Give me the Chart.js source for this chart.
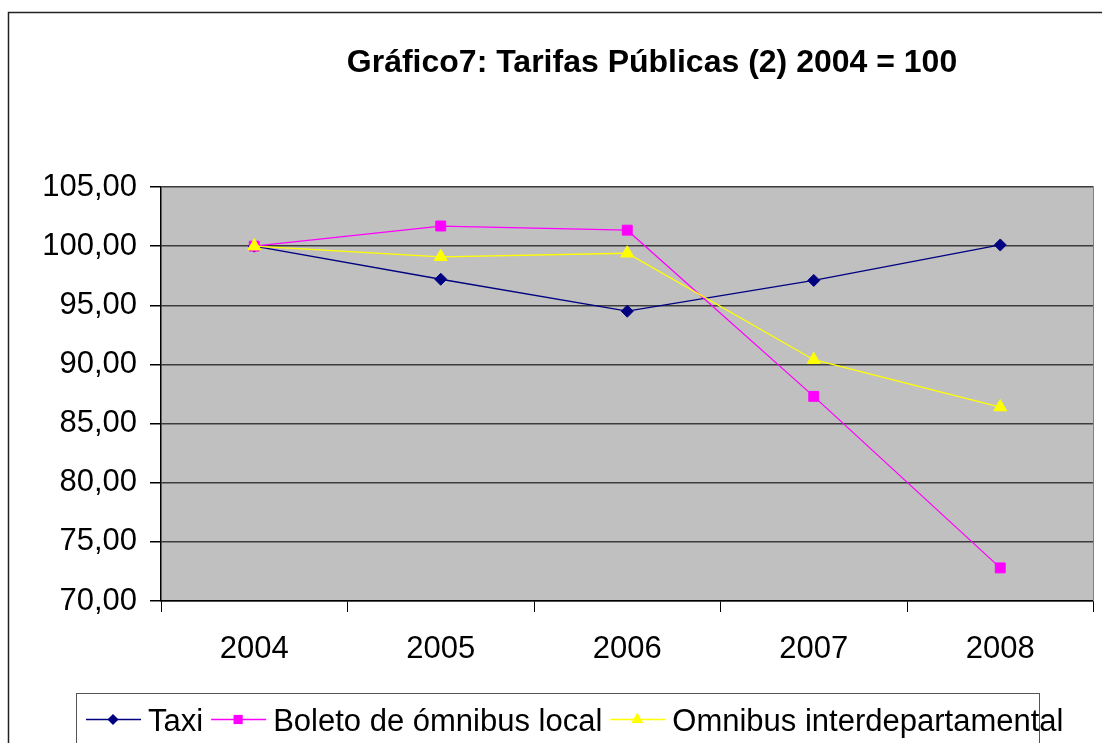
<!DOCTYPE html>
<html>
<head>
<meta charset="utf-8">
<script src="https://cdn.jsdelivr.net/npm/chart.js@4/dist/chart.umd.min.js"></script>
<style>
html,body{margin:0;padding:0;background:#fff;}
canvas{display:block;}
</style>
</head>
<body>
<canvas id="c" width="1102" height="743"></canvas>
<script>
const categories = ['2004', '2005', '2006', '2007', '2008'];
const taxi = [100.00, 97.20, 94.50, 97.10, 100.10];
const boleto = [100.00, 101.70, 101.35, 87.30, 72.80];
const omnibus = [100.00, 99.10, 99.40, 90.40, 86.40];
const yTicks = [70, 75, 80, 85, 90, 95, 100, 105];
const titleText = 'Gráfico7: Tarifas Públicas (2) 2004 = 100';
const seriesNames = ['Taxi', 'Boleto de ómnibus local', 'Omnibus interdepartamental'];

const FONT = "'Liberation Sans', Arial, sans-serif";

function drawMarker(ctx, style, x, y, r, color) {
  ctx.save();
  ctx.fillStyle = color;
  ctx.beginPath();
  if (style === 'rectRot') {
    ctx.moveTo(x, y - r); ctx.lineTo(x + r, y); ctx.lineTo(x, y + r); ctx.lineTo(x - r, y);
  } else if (style === 'rect') {
    const s = r * Math.SQRT1_2;
    ctx.rect(x - s, y - s, 2 * s, 2 * s);
  } else if (style === 'triangle') {
    const a = r;
    ctx.moveTo(x, y - a);
    ctx.lineTo(x + a * Math.sin(2 * Math.PI / 3), y - a * Math.cos(2 * Math.PI / 3));
    ctx.lineTo(x + a * Math.sin(4 * Math.PI / 3), y - a * Math.cos(4 * Math.PI / 3));
  }
  ctx.closePath();
  ctx.fill();
  ctx.restore();
}

const decorPlugin = {
  id: 'decor',
  beforeDraw(chart) {
    const ctx = chart.ctx;
    const a = chart.chartArea;
    ctx.save();
    ctx.fillStyle = '#ffffff';
    ctx.fillRect(0, 0, chart.width, chart.height);
    ctx.fillStyle = '#c0c0c0';
    ctx.fillRect(a.left, a.top, a.right - a.left, a.bottom - a.top);
    ctx.restore();
  },
  afterDraw(chart) {
    const ctx = chart.ctx;
    const a = chart.chartArea;
    ctx.save();
    // plot right border
    ctx.strokeStyle = '#808080';
    ctx.lineWidth = 1;
    ctx.beginPath();
    ctx.moveTo(Math.round(a.right) - 0.5, a.top);
    ctx.lineTo(Math.round(a.right) - 0.5, a.bottom);
    ctx.stroke();
    // outer frame
    ctx.strokeStyle = '#222222';
    ctx.lineWidth = 1.5;
    ctx.strokeRect(8.5, 12.5, chart.width + 50, chart.height + 50);
    // title
    ctx.fillStyle = '#000';
    ctx.font = 'bold 32px ' + FONT;
    ctx.textAlign = 'center';
    ctx.textBaseline = 'alphabetic';
    ctx.fillText(titleText, 652, 72);
    // legend
    ctx.strokeStyle = '#555555';
    ctx.lineWidth = 1;
    ctx.strokeRect(76.5, 693.5, 963, 60);
    ctx.font = '31px ' + FONT;
    ctx.textAlign = 'left';
    let x = 86;
    const ly = 719;
    chart.data.datasets.forEach((ds) => {
      ctx.strokeStyle = ds.borderColor;
      ctx.lineWidth = 1.3;
      ctx.beginPath();
      ctx.moveTo(x, ly + 0.5);
      ctx.lineTo(x + 55, ly + 0.5);
      ctx.stroke();
      const r = ds.pointStyle === 'rectRot' ? 5.5 : (ds.pointStyle === 'rect' ? 6.5 : 7);
      drawMarker(ctx, ds.pointStyle, x + 27, ly + 0.5, r, ds.pointBackgroundColor);
      ctx.fillStyle = '#000';
      ctx.fillText(ds.label, x + 62, 731);
      x += 62 + ctx.measureText(ds.label).width + 8;
    });
    ctx.restore();
  }
};

new Chart(document.getElementById('c'), {
  type: 'line',
  data: {
    labels: categories,
    datasets: [
      { label: seriesNames[0], data: taxi, borderColor: '#000080', backgroundColor: '#000080',
        pointBackgroundColor: '#000080', pointBorderColor: '#000080', pointStyle: 'rectRot',
        pointRadius: 6, pointBorderWidth: 1, borderWidth: 1.3, tension: 0, order: 3 },
      { label: seriesNames[1], data: boleto, borderColor: '#ff00ff', backgroundColor: '#ff00ff',
        pointBackgroundColor: '#ff00ff', pointBorderColor: '#ff00ff', pointStyle: 'rect',
        pointRadius: 7, pointBorderWidth: 1, borderWidth: 1.3, tension: 0, order: 2 },
      { label: seriesNames[2], data: omnibus, borderColor: '#ffff00', backgroundColor: '#ffff00',
        pointBackgroundColor: '#ffff00', pointBorderColor: '#ffff00', pointStyle: 'triangle',
        pointRadius: 7.5, pointBorderWidth: 1, borderWidth: 1.3, tension: 0, order: 1 }
    ]
  },
  options: {
    responsive: false,
    animation: false,
    events: [],
    layout: { padding: { top: 187, right: 7, left: 0, bottom: 0 } },
    plugins: { legend: { display: false }, title: { display: false }, tooltip: { enabled: false } },
    scales: {
      x: {
        offset: true,
        afterFit(scale) { scale.height = 142; },
        grid: { display: true, drawOnChartArea: false, drawTicks: true, tickLength: 11, offset: true, color: '#000000', lineWidth: 1 },
        border: { display: true, color: '#000000', width: 1.5 },
        ticks: { color: '#000', font: { family: FONT, size: 31 }, padding: 19, maxRotation: 0, autoSkip: false }
      },
      y: {
        min: 70, max: 105,
        afterFit(scale) { scale.width = 161; },
        afterBuildTicks(scale) { scale.ticks = yTicks.map(v => ({ value: v })); },
        grid: { color: '#3c3c3c', lineWidth: 1.5, tickLength: 11, tickColor: '#000000' },
        border: { display: true, color: '#000000', width: 1.5 },
        ticks: { color: '#000', font: { family: FONT, size: 31 }, padding: 13,
          callback: (v) => Number(v).toFixed(2).replace('.', ',') }
      }
    }
  },
  plugins: [decorPlugin]
});
</script>
</body>
</html>
